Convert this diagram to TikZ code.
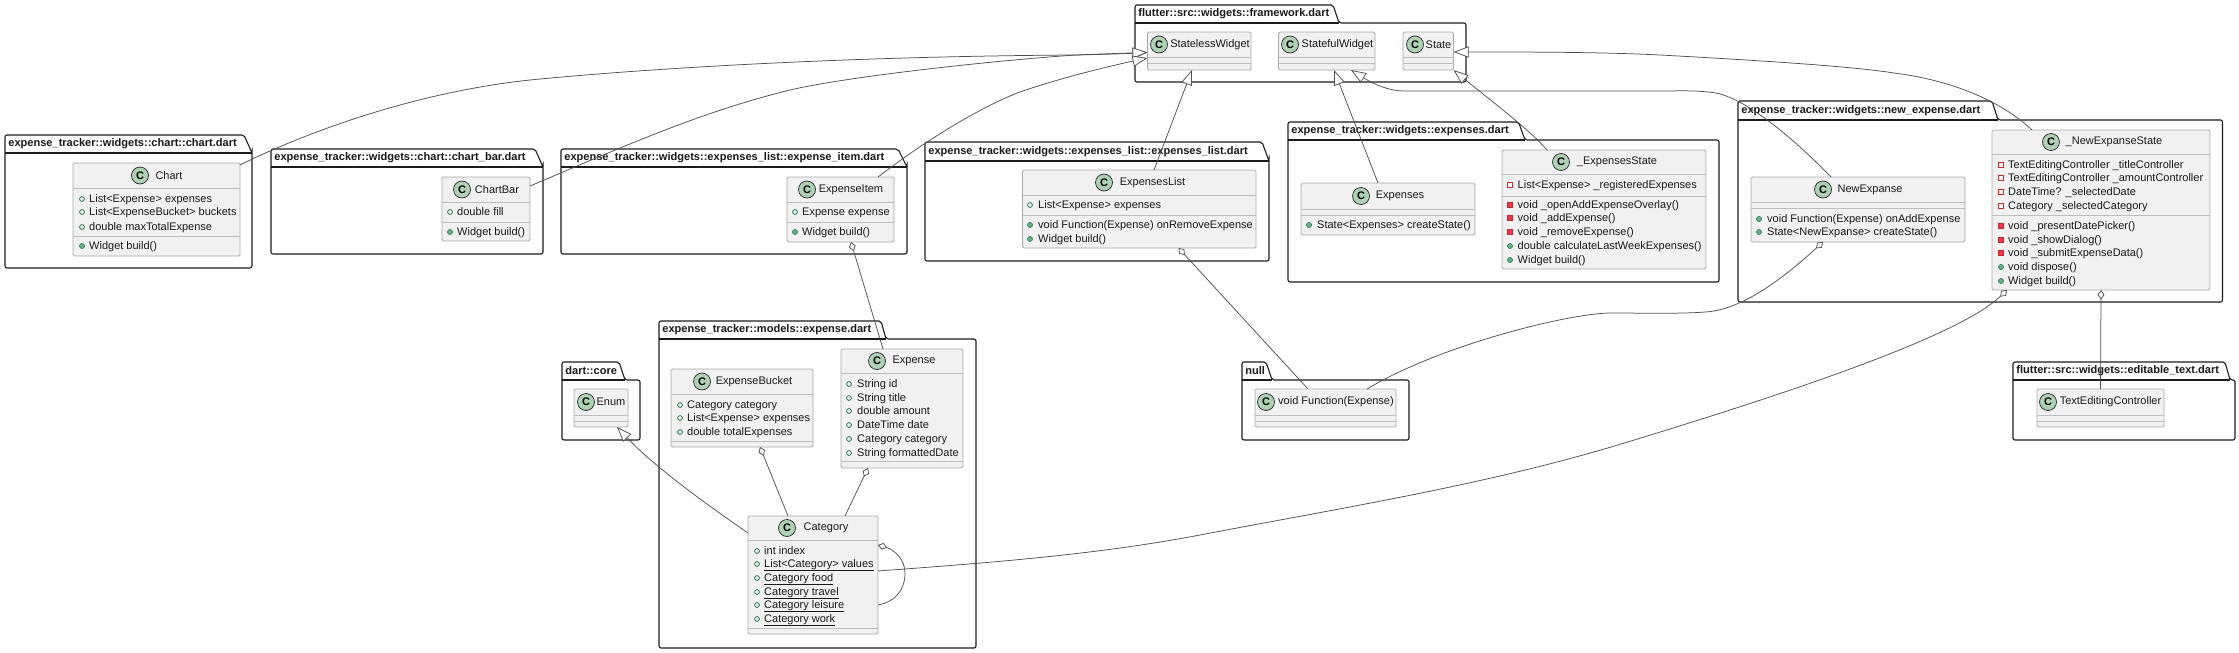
\documentclass[tikz,border=0pt]{standalone}
\usepackage{fontspec}
\setmainfont[Ligatures=NoCommon]{Liberation Sans}
\usetikzlibrary{arrows.meta,fit,calc}
\definecolor{clsfill}{HTML}{F1F1F1}
\definecolor{clsline}{HTML}{A9A9A9}
\definecolor{sepline}{HTML}{BDBDBD}
\definecolor{circfill}{HTML}{ADD1B2}
\definecolor{linkcol}{HTML}{505050}
\definecolor{pkgline}{HTML}{1C1C1C}
\definecolor{publine}{HTML}{2F8058}
\definecolor{pubfill}{HTML}{6FB088}
\definecolor{privline}{HTML}{C82930}
\definecolor{privfill}{HTML}{E8394A}
\tikzset{
  x=1pt,y=-1pt,
  clsbox/.style={draw=clsline,fill=clsfill,line width=.8pt,rounded corners=1.5pt,inner sep=0pt,outer sep=0pt},
  sepl/.style={draw=sepline,line width=.9pt},
  circ/.style={circle,draw=black!85,fill=circfill,line width=.7pt,minimum size=17pt,inner sep=0pt,font=\fontsize{11}{11}\selectfont\bfseries},
  clstitle/.style={font=\fontsize{11}{12}\selectfont,text=black!90,inner sep=0pt,anchor=center},
  memtext/.style={font=\fontsize{11}{12}\selectfont,text=black!90,inner sep=0pt,anchor=base west,yshift=-3.9pt},
  pubf/.style={circle,draw=publine,line width=.85pt,minimum size=4.8pt,inner sep=0pt},
  pubm/.style={circle,draw=publine,fill=pubfill,line width=.7pt,minimum size=5pt,inner sep=0pt},
  privf/.style={rectangle,draw=privline,fill=white,line width=.85pt,minimum size=4.6pt,inner sep=0pt},
  privm/.style={rectangle,draw=privline,fill=privfill,line width=.7pt,minimum size=5pt,inner sep=0pt},
  pkgshape/.style={draw=pkgline,line width=1.1pt,rounded corners=2pt},
  pkgtitle/.style={font=\fontsize{11.05}{12}\selectfont\bfseries,text=black!90,inner sep=0pt,anchor=west},
  link/.style={draw=linkcol,line width=.75pt},
  ext/.style={link,-{Triangle[length=15pt,width=11pt,fill=white]}},
  agg/.style={link,{Diamond[length=9.5pt,width=7pt,fill=white]}-},
}
\newcounter{auton}
\newcommand\pkgbox[8]{\stepcounter{auton}%
  \draw[pkgshape] (#1,#5) -- (#1,#2) -- (#3,#2) -- (#4,#5) -- (#6,#5) -- (#6,#7) -- (#1,#7) -- cycle;
  \draw[pkgline,line width=1.1pt] (#1,#5) -- (#4,#5);
  \pgfmathsetmacro\py{(#2+#5)/2}
  \node[pkgtitle] (pk\theauton) at (#1+3.2,\py) {#8};}
\newcommand\clsb[9]{%
  \node[clsbox,fit={(#2,#3)(#4,#5)}] (#1) {};
  \draw[sepl] (#2,#6) -- (#4,#6);
  \draw[sepl] (#2,#7) -- (#4,#7);
  \pgfmathsetmacro\cy{(#3+#6)/2}
  \node[circ] (#1-c) at (#8,\cy) {C};
  \clsname{#1}{#9}{\cy}}
\newcommand\clsname[3]{\node[clstitle] (#1-n) at (\nx,#3) {#2};}
\newcommand\mem[5]{\stepcounter{auton}%
  \node[#1] (ic\theauton) at (#2,#4) {};
  \node[memtext] (tx\theauton) at (#3,#4) {#5};}
\newcommand\ulin[1]{\leavevmode\setbox0\hbox{#1}\rlap{\rule[-2.8pt]{\wd0}{.7pt}}\box0 }
\begin{document}
\begin{tikzpicture}
\useasboundingbox (0,0) rectangle (2239,653);
% packages
\pkgbox{5}{135}{244}{252}{153}{252}{268}{expense\_tracker::widgets::chart::chart.dart}
\pkgbox{271}{149}{535}{543}{167}{543}{254}{expense\_tracker::widgets::chart::chart\_bar.dart}
\pkgbox{561}{149}{898}{907}{167}{907}{254}{expense\_tracker::widgets::expenses\_list::expense\_item.dart}
\pkgbox{925}{142}{1262}{1269}{161}{1269}{261}{expense\_tracker::widgets::expenses\_list::expenses\_list.dart}
\pkgbox{1135}{5}{1333}{1339}{23}{1466}{82}{flutter::src::widgets::framework.dart}
\pkgbox{1288}{122}{1518.5}{1525}{140}{1719}{282}{expense\_tracker::widgets::expenses.dart}
\pkgbox{1738}{101}{1992}{1998}{120}{2222.5}{302}{expense\_tracker::widgets::new\_expense.dart}
\pkgbox{659}{321}{881}{886}{339}{976}{648}{expense\_tracker::models::expense.dart}
\pkgbox{562}{362}{619}{625}{380}{640}{440}{dart::core}
\pkgbox{1242}{362}{1266}{1272}{380}{1409}{440}{null}
\pkgbox{2013}{362}{2225}{2230}{380}{2235}{440}{flutter::src::widgets::editable\_text.dart}
% classes
\def\nx{169}\clsb{chart}{73}{163}{240}{256}{188}{236}{140}{Chart}
\mem{pubf}{82}{89}{199}{List<Expense> expenses}
\mem{pubf}{82}{89}{212}{List<ExpenseBucket> buckets}
\mem{pubf}{82}{89}{227}{double maxTotalExpense}
\mem{pubm}{82}{89}{246}{Widget build()}
\def\nx{497}\clsb{chartbar}{442}{177}{530}{241}{202}{222}{462}{ChartBar}
\mem{pubf}{450}{457}{212}{double fill}
\mem{pubm}{450}{457}{232}{Widget build()}
\def\nx{851}\clsb{expenseitem}{787}{177}{894}{242}{202}{222}{807}{ExpenseItem}
\mem{pubf}{795}{802}{212}{Expense expense}
\mem{pubm}{795}{802}{232}{Widget build()}
\def\nx{1152.5}\clsb{expenseslist}{1022.5}{170}{1256}{248}{195}{215}{1104}{ExpensesList}
\mem{pubf}{1030}{1038}{205}{List<Expense> expenses}
\mem{pubm}{1030}{1038}{225}{void Function(Expense) onRemoveExpense}
\mem{pubm}{1030}{1038}{239}{Widget build()}
\def\nx{1210}\clsb{stateless}{1147.5}{32}{1251}{70}{57}{63}{1159}{StatelessWidget}
\def\nx{1337.5}\clsb{stateful}{1278.5}{32}{1375}{70}{57}{63}{1290}{StatefulWidget}
\def\nx{1438.5}\clsb{state}{1403}{32}{1453.5}{70}{57}{63}{1415}{State}
\def\nx{1400}\clsb{expenses}{1301}{183}{1475}{235}{209}{215}{1361}{Expenses}
\mem{pubm}{1309}{1317}{225}{State<Expenses> createState()}
\def\nx{1617}\clsb{expensesstate}{1502}{150}{1706}{269}{174}{196}{1561}{\_ExpensesState}
\mem{privf}{1510}{1517.5}{185}{List<Expense> \_registeredExpenses}
\mem{privm}{1510}{1517.5}{205}{void \_openAddExpenseOverlay()}
\mem{privm}{1510}{1517.5}{218}{void \_addExpense()}
\mem{privm}{1510}{1517.5}{232}{void \_removeExpense()}
\mem{pubm}{1510}{1517.5}{246}{double calculateLastWeekExpenses()}
\mem{pubm}{1510}{1517.5}{260}{Widget build()}
\def\nx{1870}\clsb{newexpanse}{1751}{177}{1965}{242}{202}{208}{1823}{NewExpanse}
\mem{pubm}{1759}{1767}{219}{void Function(Expense) onAddExpense}
\mem{pubm}{1759}{1767}{232}{State<NewExpanse> createState()}
\def\nx{2114}\clsb{newexpansestate}{1992}{130}{2210}{290}{154}{215}{2051}{\_NewExpanseState}
\mem{privf}{2001}{2008}{165}{TextEditingController \_titleController}
\mem{privf}{2001}{2008}{178}{TextEditingController \_amountController}
\mem{privf}{2001}{2008}{192}{DateTime? \_selectedDate}
\mem{privf}{2001}{2008}{206}{Category \_selectedCategory}
\mem{privm}{2001}{2008}{226}{void \_presentDatePicker()}
\mem{privm}{2001}{2008}{240}{void \_showDialog()}
\mem{privm}{2001}{2008}{253}{void \_submitExpenseData()}
\mem{pubm}{2001}{2008}{267}{void dispose()}
\mem{pubm}{2001}{2008}{281}{Widget build()}
\def\nx{754}\clsb{bucket}{671}{369}{813}{447}{394}{441}{702}{ExpenseBucket}
\mem{pubf}{680}{687}{405}{Category category}
\mem{pubf}{680}{687}{418}{List<Expense> expenses}
\mem{pubf}{680}{687}{432}{double totalExpenses}
\def\nx{914}\clsb{expense}{841}{349}{963}{468}{373}{461}{877}{Expense}
\mem{pubf}{849}{857}{384}{String id}
\mem{pubf}{849}{857}{398}{String title}
\mem{pubf}{849}{857}{411}{double amount}
\mem{pubf}{849}{857}{425}{DateTime date}
\mem{pubf}{849}{857}{439}{Category category}
\mem{pubf}{849}{857}{453}{String formattedDate}
\def\nx{826}\clsb{category}{748}{516}{878}{634}{540}{628}{787}{Category}
\mem{pubf}{757}{764}{551}{int index}
\mem{pubf}{757}{764}{564}{\ulin{List<Category> values}}
\mem{pubf}{757}{764}{578}{\ulin{Category food}}
\mem{pubf}{757}{764}{592}{\ulin{Category travel}}
\mem{pubf}{757}{764}{605}{\ulin{Category leisure}}
\mem{pubf}{757}{764}{619}{\ulin{Category work}}
\def\nx{611}\clsb{enum}{574}{389}{628}{427}{415}{421}{586}{Enum}
\def\nx{1336}\clsb{voidfn}{1255}{389}{1396}{427}{415}{421}{1266}{void Function(Expense)}
\def\nx{2110.5}\clsb{texteditctl}{2037}{389}{2164}{427}{415}{421}{2048}{TextEditingController}
% generalisations
\draw[ext] ([yshift=-2pt]chart.north east) .. controls (280,145) and (400,92) .. (540,79) .. controls (700,64) and (900,56) .. (1076,55) .. controls (1100,54.5) and (1130,53.5) .. ([yshift=-20.5pt]stateless.north west);
\draw[ext] ([yshift=-9pt]chartbar.north east) .. controls (620,148) and (700,112) .. (790,90) .. controls (850,76) and (1000,60) .. (1076,55) .. controls (1100,54) and (1130,53) .. ([yshift=-20.5pt]stateless.north west);
\draw[ext] ([xshift=-16pt]expenseitem.north east) .. controls (930,137) and (985,105) .. (1020,92) .. controls (1060,78) and (1110,66) .. ([yshift=-26pt]stateless.north west);
\draw[ext] ([xshift=14.75pt]expenseslist.north) -- ([xshift=-7.25pt]stateless.south);
\draw[ext] ([xshift=-10pt]expenses.north) -- ([xshift=7.25pt]stateful.south);
\draw[ext] ([xshift=45pt]expensesstate.north west) .. controls (1530,130) and (1490,100) .. (state.south east);
\draw[ext] ([xshift=80pt]newexpanse.north west) .. controls (1800,145) and (1750,100) .. (1716,93) .. controls (1695,90) and (1680,91) .. (1660,91) -- (1404,91) .. controls (1390,91) and (1375,85) .. ([xshift=-24pt]stateful.south east);
\draw[ext] ([xshift=40pt]newexpansestate.north west) .. controls (2000,100) and (1950,80) .. (1894,73) .. controls (1850,66) and (1751,60) .. (1660,55) .. controls (1600,52) and (1530,52) .. ([yshift=-20pt]state.north east);
\draw[ext] ([yshift=-17pt]category.north west) .. controls (690,493) and (650,462) .. ([xshift=43pt]enum.south west);
% aggregations
\draw[agg] ([xshift=64pt]expenseitem.south west) -- ([xshift=-80pt]expense.north east);
\draw[agg] ([xshift=156pt]expenseslist.south west) -- ([xshift=53pt]voidfn.north west);
\draw[agg] ([xshift=72pt]newexpanse.south west) .. controls (1790,272) and (1745,310) .. (1705,312) .. controls (1680,314) and (1640,313) .. (1611,313) .. controls (1570,313) and (1440,345) .. ([xshift=112pt]voidfn.north west);
\draw[agg] ([xshift=15pt]newexpansestate.south west) .. controls (1960,335) and (1800,390) .. (1611,447) .. controls (1480,486) and (1330,510) .. (1200,535) .. controls (1100,554) and (1000,562) .. ([yshift=-55pt]category.north east);
\draw[agg] ([xshift=109pt]newexpansestate.south west) -- ([xshift=63.5pt]texteditctl.north west);
\draw[agg] ([xshift=89pt]bucket.south west) -- ([xshift=40pt]category.north west);
\draw[agg] ([xshift=27pt]expense.south west) -- ([xshift=-33pt]category.north east);
\draw[agg] ([yshift=-29pt]category.north east) .. controls (895,550) and (905,560) .. (905,573) .. controls (905,590) and (895,602) .. ([yshift=-89pt]category.north east);
\end{tikzpicture}
\end{document}
